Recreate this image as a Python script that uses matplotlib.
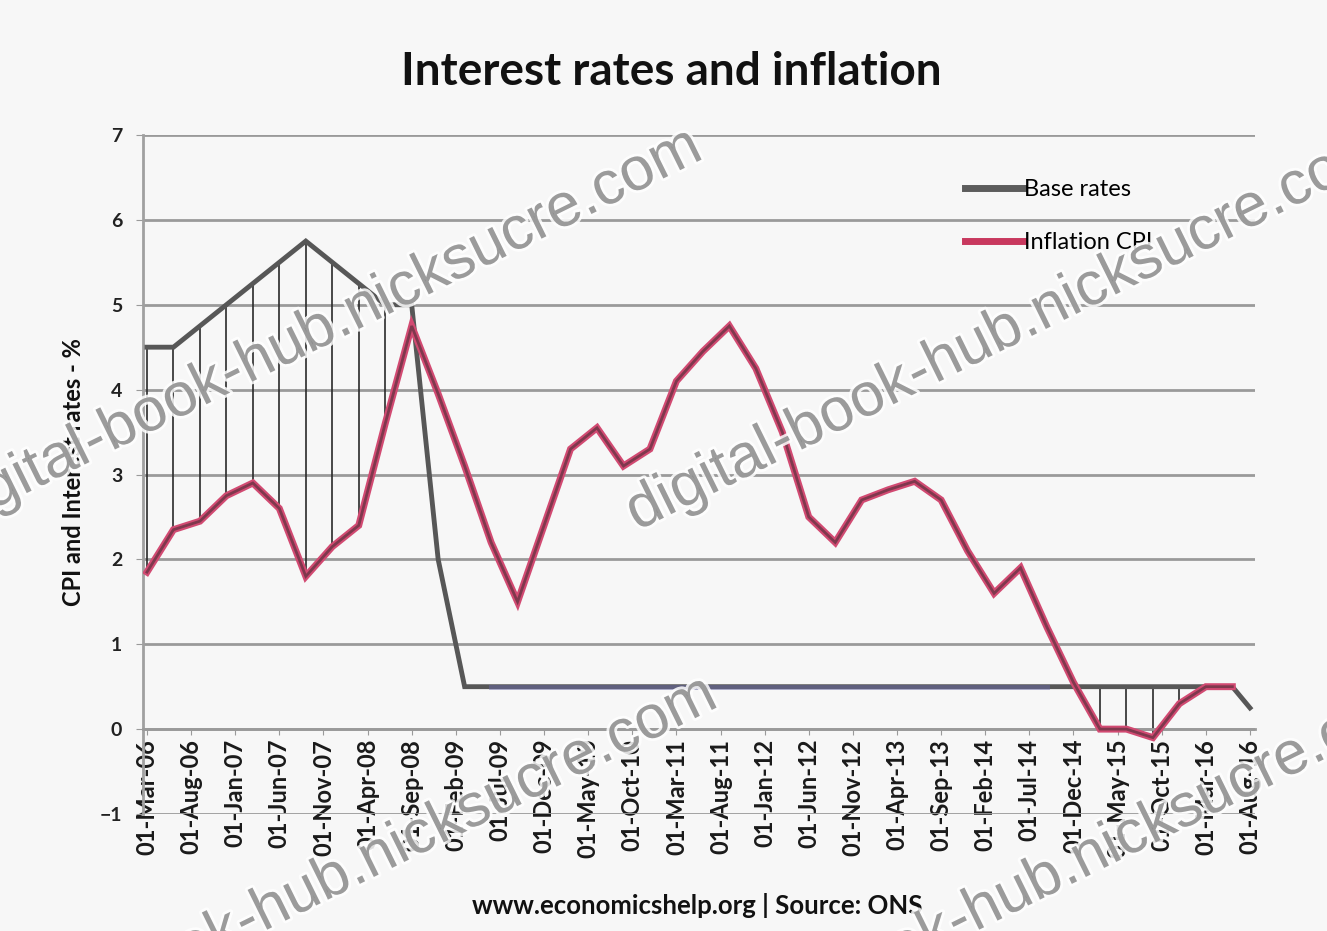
import matplotlib
matplotlib.use("Agg")
import matplotlib.pyplot as plt
import matplotlib.patheffects as pe
import numpy as np

# quarterly observations, Mar-06 .. Jun-16 (month offsets from 01-Mar-06)
quarters = ["Mar-06", "Jun-06", "Sep-06", "Dec-06", "Mar-07", "Jun-07", "Sep-07", "Dec-07",
            "Mar-08", "Jun-08", "Sep-08", "Dec-08", "Mar-09", "Jun-09", "Sep-09", "Dec-09",
            "Mar-10", "Jun-10", "Sep-10", "Dec-10", "Mar-11", "Jun-11", "Sep-11", "Dec-11",
            "Mar-12", "Jun-12", "Sep-12", "Dec-12", "Mar-13", "Jun-13", "Sep-13", "Dec-13",
            "Mar-14", "Jun-14", "Sep-14", "Dec-14", "Mar-15", "Jun-15", "Sep-15", "Dec-15",
            "Mar-16", "Jun-16"]
base_extra_date = "Aug-16"

base_rates = [4.5, 4.5, 4.75, 5.0, 5.25, 5.5, 5.75, 5.5, 5.25, 5.0, 5.0, 2.0,
              0.5, 0.5, 0.5, 0.5, 0.5, 0.5, 0.5, 0.5, 0.5, 0.5, 0.5, 0.5,
              0.5, 0.5, 0.5, 0.5, 0.5, 0.5, 0.5, 0.5, 0.5, 0.5, 0.5, 0.5,
              0.5, 0.5, 0.5, 0.5, 0.5, 0.5, 0.25]
inflation = [1.85, 2.35, 2.45, 2.75, 2.9, 2.6, 1.8, 2.15, 2.4, 3.6, 4.75, 3.95,
             3.1, 2.2, 1.5, 2.4, 3.3, 3.55, 3.1, 3.3, 4.1, 4.45, 4.75, 4.25,
             3.5, 2.5, 2.2, 2.7, 2.82, 2.92, 2.7, 2.1, 1.6, 1.9, 1.2, 0.55,
             0.0, 0.0, -0.1, 0.3, 0.5, 0.5]

tick_labels = ["01-Mar-06", "01-Aug-06", "01-Jan-07", "01-Jun-07", "01-Nov-07", "01-Apr-08",
               "01-Sep-08", "01-Feb-09", "01-Jul-09", "01-Dec-09", "01-May-10", "01-Oct-10",
               "01-Mar-11", "01-Aug-11", "01-Jan-12", "01-Jun-12", "01-Nov-12", "01-Apr-13",
               "01-Sep-13", "01-Feb-14", "01-Jul-14", "01-Dec-14", "01-May-15", "01-Oct-15",
               "01-Mar-16", "01-Aug-16"]

MON = {m: i for i, m in enumerate(["Jan", "Feb", "Mar", "Apr", "May", "Jun", "Jul",
                                   "Aug", "Sep", "Oct", "Nov", "Dec"])}

def moff(s):
    # "Mar-06" or "01-Mar-06" -> months since Mar 2006
    p = s.split("-")[-2:]
    return (2000 + int(p[1]) - 2006) * 12 + MON[p[0]] - 2

xq = np.array([moff(q) for q in quarters])
xb = np.append(xq, moff(base_extra_date))
xt = [moff(t) for t in tick_labels]

W, H = 1327, 931
BG = "#f7f7f7"
fig = plt.figure(figsize=(W / 100, H / 100), dpi=100)
fig.patch.set_facecolor(BG)
ax = fig.add_axes([143 / W, 117 / H, 1112 / W, 679 / H])
ax.set_facecolor(BG)

ax.set_xlim(-0.45, 125.57)
ax.set_ylim(-1, 7)
ax.set_yticks(range(-1, 8))
ax.yaxis.grid(True, color="#9a9a9a", lw=2)
ax.set_axisbelow(True)
for s in ["top", "right"]:
    ax.spines[s].set_visible(False)
ax.spines["left"].set_color("#a0a0a0")
ax.spines["left"].set_linewidth(2)
ax.spines["bottom"].set_position(("data", 0))
ax.spines["bottom"].set_color("#9a9a9a")
ax.spines["bottom"].set_linewidth(2)

ax.set_xticks(xt)
ax.set_xticklabels(tick_labels, rotation=90, fontsize=17, fontweight="bold",
                   family="Lato", color="#1a1a1a")
ax.tick_params(axis="x", length=4, color="#9a9a9a", pad=3)
ax.tick_params(axis="y", length=5, color="#9a9a9a", labelsize=14, labelcolor="#222222", pad=10)
for t in ax.get_yticklabels():
    t.set_fontweight("bold")
    t.set_family("Lato")

# high-low lines where base rate sits above inflation
binf = np.array(base_rates[:len(inflation)])
inf = np.array(inflation)
m = binf > inf + 0.02
ax.vlines(xq[m], inf[m], binf[m], color="#2a2a2a", lw=1.2, zorder=2)

ax.plot(xb, base_rates, color="#575757", lw=3.5, zorder=3, solid_joinstyle="miter")
flat = (xb >= moff("Jun-09")) & (xb <= moff("Sep-14"))
ax.plot(xb[flat], np.array(base_rates)[flat], color="#6a6aa8", lw=3.5, alpha=0.5, zorder=3)
ax.plot(xq, inflation, color="#d24a72", lw=5, zorder=4, solid_joinstyle="miter")
ax.plot(xq, inflation, color="#6a3444", lw=2, zorder=4, alpha=0.8, solid_joinstyle="miter")

# legend
h1, = ax.plot([], [], color="#5c5c5c", lw=5)
h2, = ax.plot([], [], color="#c8385e", lw=5)
ax.legend([h1, h2], ["Base rates", "Inflation CPI"], loc="upper left",
          bbox_to_anchor=((944 - 143) / 1112, (796 - 140) / 679), frameon=False,
          handlelength=2.45, handletextpad=0.05, labelspacing=1.35,
          prop={"family": "Lato", "size": 17})

fig.text(671 / W, 1 - 72 / H, "Interest rates and inflation", ha="center", va="center",
         fontsize=33, fontweight="bold", family="Lato", color="#111111")
fig.text(74 / W, 1 - 472 / H, "CPI and Interest rates - %", rotation=90, ha="center",
         va="center", fontsize=17, fontweight="bold", family="Lato", color="#111111")
fig.text(697 / W, 1 - 905 / H, "www.economicshelp.org | Source: ONS", ha="center",
         va="center", fontsize=18.5, fontweight="bold", family="Lato", color="#111111")

# site watermark repeated across the picture
wm = "digital-book-hub.nicksucre.com"
for x0, y0 in [(-50, 531), (637, 531), (-35, 1079), (677, 1079)]:
    fig.text(x0 / W, 1 - y0 / H, wm, rotation=26.3, rotation_mode="anchor",
             ha="left", va="baseline", fontsize=44, family="Liberation Sans",
             color="#8c8c8c", alpha=0.85, zorder=10,
             path_effects=[pe.withStroke(linewidth=4, foreground="white")])

fig.savefig("out.png", dpi=100, facecolor=BG)
